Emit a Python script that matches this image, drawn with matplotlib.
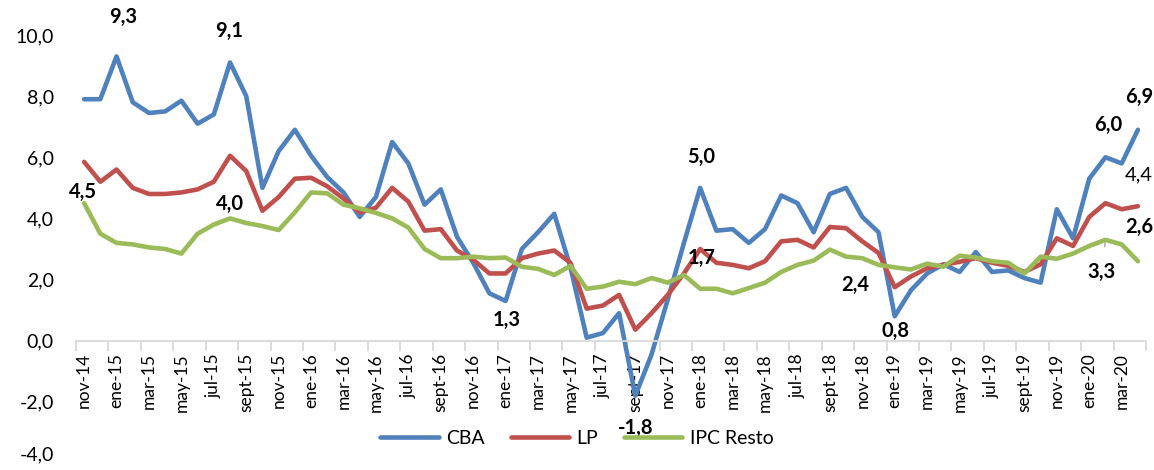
import matplotlib
matplotlib.use("Agg")
import matplotlib.pyplot as plt
from matplotlib.ticker import FuncFormatter, FixedLocator
import numpy as np

plt.rcParams['font.family'] = ['Lato', 'DejaVu Sans']

# Monthly series, nov-14 .. abr-20
meses = ['ene', 'feb', 'mar', 'abr', 'may', 'jun', 'jul', 'ago', 'sept', 'oct', 'nov', 'dic']
periodos = [f"{meses[(10 + i) % 12]}-{14 + (10 + i) // 12}" for i in range(66)]

cba = [7.9, 7.9, 9.3, 7.8, 7.45, 7.5, 7.85, 7.1, 7.4, 9.1, 8.0,
       5.0, 6.2, 6.9, 6.05, 5.35, 4.85, 4.05, 4.7, 6.5, 5.8, 4.45,
       4.95, 3.4, 2.55, 1.55, 1.3, 3.0, 3.55, 4.15, 2.4, 0.1, 0.25,
       0.9, -1.8, -0.45, 1.35, 3.2, 5.0, 3.6, 3.65, 3.2, 3.65, 4.75,
       4.5, 3.55, 4.8, 5.0, 4.05, 3.55, 0.8, 1.65, 2.2, 2.5, 2.25, 2.9,
       2.25, 2.3, 2.05, 1.9, 4.3, 3.35, 5.3, 6.0, 5.8, 6.9]
lp = [5.85, 5.2, 5.6, 5.0, 4.8, 4.8, 4.85, 4.95, 5.2, 6.05, 5.55,
      4.25, 4.7, 5.3, 5.33, 5.05, 4.65, 4.2, 4.35, 5.0, 4.55, 3.6,
      3.65, 2.95, 2.65, 2.2, 2.2, 2.7, 2.85, 2.95, 2.55, 1.05, 1.15,
      1.5, 0.36, 0.9, 1.5, 2.2, 3.0, 2.55, 2.48, 2.37, 2.6, 3.25,
      3.3, 3.05, 3.72, 3.68, 3.25, 2.87, 1.75, 2.1, 2.37, 2.48, 2.58, 2.7,
      2.55, 2.45, 2.25, 2.5, 3.35, 3.1, 4.05, 4.5, 4.3, 4.4]
ipc_resto = [4.5, 3.5, 3.2, 3.15, 3.05, 3.0, 2.85, 3.5, 3.8, 4.0, 3.85,
             3.75, 3.62, 4.2, 4.85, 4.82, 4.45, 4.33, 4.18, 4.0, 3.7, 3.0,
             2.7, 2.7, 2.75, 2.7, 2.72, 2.42, 2.35, 2.15, 2.45, 1.7, 1.77,
             1.93, 1.85, 2.05, 1.9, 2.15, 1.7, 1.7, 1.55, 1.72, 1.9, 2.25,
             2.48, 2.62, 2.98, 2.75, 2.7, 2.48, 2.4, 2.33, 2.52, 2.42, 2.78, 2.72,
             2.6, 2.55, 2.2, 2.75, 2.68, 2.85, 3.1, 3.3, 3.15, 2.6]

series = {'CBA': cba, 'LP': lp, 'IPC Resto': ipc_resto}
colors = {'CBA': '#4F81BD', 'LP': '#C0504D', 'IPC Resto': '#9BBB59'}

# data labels: (series, index, dx px, dy px, bold)
etiquetas = [('CBA', 2, 7, 39, True), ('CBA', 9, -1, 32, True),
             ('IPC Resto', 0, -1, 11, True), ('IPC Resto', 9, 0, 14, True),
             ('CBA', 26, 1, -19, True), ('CBA', 34, 0, -32, True),
             ('CBA', 38, 1, 31, True), ('IPC Resto', 38, 1, 31, True),
             ('IPC Resto', 50, -39, -18, True), ('CBA', 50, 1, -15, True),
             ('CBA', 63, 3, 32, True), ('CBA', 65, 1, 33, True),
             ('LP', 65, 1, 31, False), ('IPC Resto', 65, 1, 34, True)]

fig = plt.figure(figsize=(11.54, 4.70), dpi=100)
ax = fig.add_axes([76/1154, 1 - 463/470, 1070/1154, 428/470])

x = np.arange(len(periodos))
for name, vals in series.items():
    ax.plot(x, vals, color=colors[name], linewidth=3.3, label=name,
            solid_joinstyle='round', solid_capstyle='round')

ax.set_xlim(-0.5, len(periodos) - 0.5)
ax.set_ylim(-4, 10)
ax.set_yticks(np.arange(-4, 10.1, 2))
ax.yaxis.set_major_formatter(FuncFormatter(lambda v, p: f"{v:.1f}".replace('.', ',')))
ax.tick_params(axis='y', length=0, pad=16, labelsize=14)
# keep the bottom label inside the canvas
ax.get_yticklabels()[0].set_va('bottom')

for s in ['top', 'right', 'left']:
    ax.spines[s].set_visible(False)
ax.spines['bottom'].set_position(('data', 0))
ax.spines['bottom'].set_color('#d9d9d9')
ax.spines['bottom'].set_linewidth(1.3)

ax.xaxis.set_major_locator(FixedLocator(np.arange(-0.5, len(periodos), 2)))
ax.xaxis.set_minor_locator(FixedLocator(x[::2]))
ax.set_xticklabels([], minor=False)
ax.set_xticklabels(periodos[::2], minor=True, rotation=90)
ax.tick_params(axis='x', which='major', length=7, width=1.3, color='#d9d9d9', direction='out')
ax.tick_params(axis='x', which='minor', length=0, pad=9, labelsize=12.5)

for name, idx, dx, dy, bold in etiquetas:
    v = series[name][idx]
    ax.annotate(f"{v:.1f}".replace('.', ','), (idx, v), xytext=(dx, dy),
                textcoords='offset pixels', ha='center', va='center',
                fontsize=14.5, fontweight='bold' if bold else 'normal',
                annotation_clip=False)

# label with leader line
v = ipc_resto[63]
ax.annotate(f"{v:.1f}".replace('.', ','), (63, v), xytext=(-4, -32),
            textcoords='offset pixels', ha='center', va='center',
            fontsize=14.5, fontweight='bold',
            arrowprops=dict(arrowstyle='-', color='#a6a6a6', lw=1, shrinkA=9, shrinkB=2))

fig.legend(loc='center', bbox_to_anchor=(0.5, 1 - 438/470), ncol=3, frameon=False,
           fontsize=14, handlelength=3.0, handletextpad=0.4, columnspacing=1.3)

fig.savefig("out.png", dpi=100)
